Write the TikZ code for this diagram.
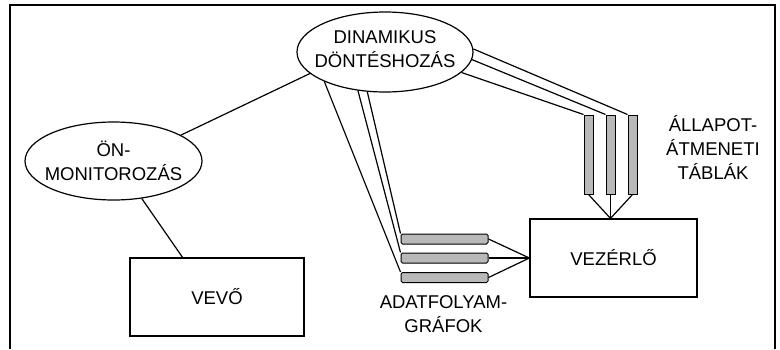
\documentclass[tikz,border=0pt]{standalone}
\usepackage{fontspec}
\setmainfont{Liberation Sans}
\usetikzlibrary{
	calc,
	shapes.geometric,
}
\tikzset{
	bubble/.style={draw, ellipse, line width=1.2bp, inner sep=0pt},
	unitbox/.style={draw, rectangle, line width=1.2bp, inner sep=0pt},
	flatbar/.style={draw, fill=gray!55, rounded corners=1.5bp, line width=1bp,
		minimum width=87bp, minimum height=10bp, inner sep=0pt},
	tallbar/.style={draw, fill=gray!55, line width=1bp,
		minimum width=9bp, minimum height=79bp, inner sep=0pt},
	link/.style={line width=1.2bp},
}
\newcommand{\diafont}{\fontsize{18.5bp}{24bp}\selectfont}

\begin{document}
\begin{tikzpicture}[x=1bp, y=-1bp, font=\diafont]
\useasboundingbox (0,0) rectangle (780,349);
\draw[line width=1.5bp] (10,349) -- (10,5) -- (775,5) -- (775,349);

\node[bubble, minimum width=176bp, minimum height=80bp,
	label={[align=center, yshift=2.5bp]center:DINAMIKUS\\DÖNTÉSHOZÁS}] (dyn) at (385,52) {};
\node[bubble, minimum width=177bp, minimum height=78bp,
	label={[align=center]center:ÖN-\\MONITOROZÁS}] (mon) at (113.5,161) {};
\node[unitbox, minimum width=174bp, minimum height=78bp] (vevo) at (217,297) {VEVŐ};
\node[unitbox, minimum width=167bp, minimum height=78bp] (vez) at (613.5,258) {VEZÉRLŐ};

\node[flatbar] (adat1) at (444.5,239) {};
\node[flatbar] (adat2) at (444.5,258) {};
\node[flatbar] (adat3) at (444.5,277.5) {};
\node[align=center] (adatlbl) at (443.5,314) {ADATFOLYAM-\\GRÁFOK};

\node[tallbar] (all1) at (588.5,154.5) {};
\node[tallbar] (all2) at (610.5,154.5) {};
\node[tallbar] (all3) at (632.5,154.5) {};
\node[align=center] (alllbl) at (713,147) {ÁLLAPOT-\\ÁTMENETI\\TÁBLÁK};

\coordinate (conv) at (vez.north -| all2.south);

\draw[link] (mon.21) -- (dyn.196);
\draw[link] (mon.-53) -- (vevo.131);

\draw[link] (dyn.206) -- (adat3.north west);
\draw[link] (dyn.235) -- (adat2.north west);
\draw[link] (dyn.246) -- (adat1.north west);
\draw[link] (dyn.-15) -- (all1.north west);
\draw[link] (dyn.-5) -- (all2.north west);
\draw[link] (dyn.2) -- (all3.north west);

\draw[link] (adat1.east) -- (vez.west);
\draw[link] (adat2.east) -- (vez.west);
\draw[link] (adat3.east) -- (vez.west);
\draw[link] (all1.south) -- (conv);
\draw[link] (all2.south) -- (conv);
\draw[link] (all3.south) -- (conv);
\end{tikzpicture}
\end{document}
